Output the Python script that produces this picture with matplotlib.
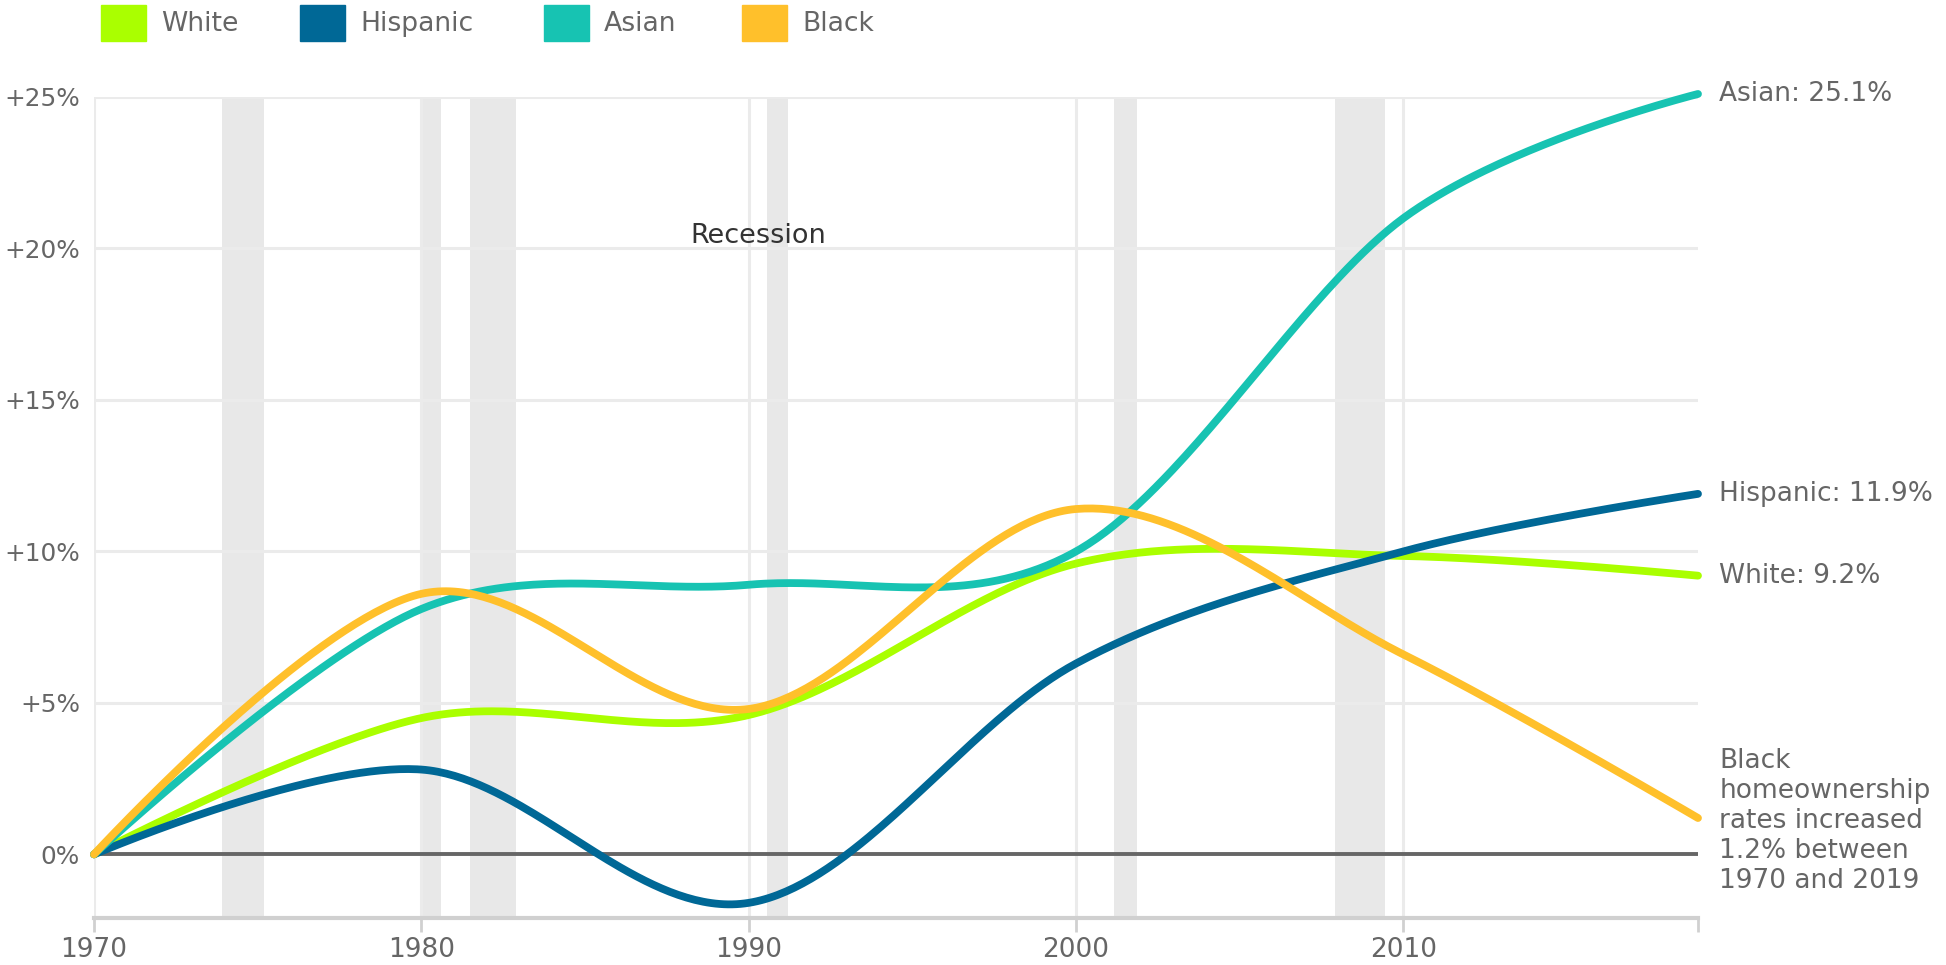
import numpy as np
import matplotlib
matplotlib.use("Agg")
import matplotlib.pyplot as plt
from matplotlib.patches import Rectangle

# ---- data ----
years = [1970, 1980, 1990, 2000, 2010, 2019]
white = [0.0, 4.5, 4.6, 9.6, 9.85, 9.2]
hispanic = [0.0, 2.8, -1.6, 6.3, 10.0, 11.9]
asian = [0.0, 8.1, 8.9, 10.0, 21.0, 25.1]
black = [0.0, 8.6, 4.8, 11.4, 6.6, 1.2]

series_names = ["White", "Hispanic", "Asian", "Black"]
series_values = [white, hispanic, asian, black]
series_colors = ["#AAFF00", "#006896", "#17C3B2", "#FFC02B"]
end_labels = ["White: 9.2%", "Hispanic: 11.9%", "Asian: 25.1%",
              "Black\nhomeownership\nrates increased\n1.2% between\n1970 and 2019"]

recessions = [(1973.9, 1975.2), (1980.0, 1980.6), (1981.5, 1982.9),
              (1990.55, 1991.2), (2001.15, 2001.85), (2007.9, 2009.45)]

xticks = [1970, 1980, 1990, 2000, 2010]
yticks = [0, 5, 10, 15, 20, 25]
ytick_labels = ["0%", "+5%", "+10%", "+15%", "+20%", "+25%"]


def cardinal_curve(x, y, steps=80, k=1 / 6):
    """Cardinal (tension 0) spline through the points, d3-style end handling."""
    P = np.column_stack([np.asarray(x, float), np.asarray(y, float)])
    n = len(P)
    ext = np.vstack([P[1], P, P[n - 2]])
    t = np.linspace(0, 1, steps)[:, None]
    pts = []
    for i in range(n - 1):
        p_prev, p0, p1, p_next = ext[i], ext[i + 1], ext[i + 2], ext[i + 3]
        c1 = p0 + k * (p1 - p_prev)
        c2 = p1 + k * (p0 - p_next)
        seg = ((1 - t) ** 3 * p0 + 3 * (1 - t) ** 2 * t * c1
               + 3 * (1 - t) * t ** 2 * c2 + t ** 3 * p1)
        pts.append(seg if i == 0 else seg[1:])
    pts = np.vstack(pts)
    return pts[:, 0], pts[:, 1]


W, H = 1946, 965
fig = plt.figure(figsize=(W / 100, H / 100), dpi=100)
plt.rcParams['font.family'] = ['DejaVu Sans']
ax = fig.add_axes([94 / W, 1 - 918 / H, (1698 - 94) / W, (918 - 97) / H])

ax.set_xlim(1970, 2019)
ax.set_ylim(-2.1, 25)

for a, b2 in recessions:
    ax.axvspan(a, b2, color="#e8e8e8", lw=0, zorder=0)

for yt in yticks[1:]:
    ax.axhline(yt, color="#ebebeb", lw=2.2, zorder=1)
for xt in xticks:
    ax.axvline(xt, color="#ebebeb", lw=2.2, zorder=1)

ax.axhline(0, color="#666666", lw=2.8, zorder=2)

for vals, col in zip(series_values, series_colors):
    cx, cy = cardinal_curve(years, vals)
    ax.plot(cx, cy, color=col, lw=5.6, solid_capstyle="round", zorder=3, clip_on=False)

for vals, col, lab, name in zip(series_values, series_colors, end_labels, series_names):
    yv = vals[-1]
    if name == "Black":
        yv = 1.1
    ax.text(2019.65, yv, lab, color="#666666", fontsize=19, va="center", ha="left",
            linespacing=1.2, clip_on=False)

ax.text(1990.3, 20.4, "Recession", color="#333333", fontsize=19.5, ha="center", va="center")

for s in ["top", "right", "left"]:
    ax.spines[s].set_visible(False)
ax.spines["bottom"].set_color("#d0d0d0")
ax.spines["bottom"].set_linewidth(3)

ax.set_xticks(xticks + [2019])
ax.set_xticklabels([str(x) for x in xticks] + [""])
ax.set_yticks(yticks)
ax.set_yticklabels(ytick_labels)
ax.tick_params(axis="x", length=10, width=2, color="#d0d0d0", labelsize=19,
               labelcolor="#666666", pad=4)
ax.tick_params(axis="y", length=0, labelsize=17.8, labelcolor="#666666", pad=10)

# legend
leg_x = [101, 300, 544, 742]
for x0, name, col in zip(leg_x, series_names, series_colors):
    fig.patches.append(Rectangle((x0 / W, 1 - 41 / H), 45 / W, 36 / H,
                                 transform=fig.transFigure, color=col))
    fig.text((x0 + 60) / W, 1 - 24 / H, name, color="#666666", fontsize=19.2,
             va="center", ha="left")

fig.savefig("out.png", dpi=100, facecolor="white")
